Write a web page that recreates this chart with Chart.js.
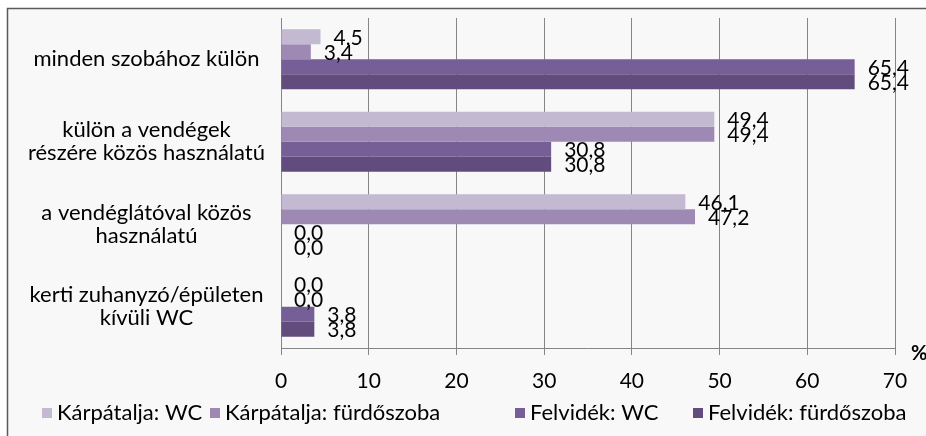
<!DOCTYPE html>
<html><head><meta charset="utf-8">
<script src="https://cdn.jsdelivr.net/npm/chart.js@4.4.0/dist/chart.umd.min.js"></script>
<style>html,body{margin:0;padding:0;background:#fff;}</style>
</head><body>
<canvas id="c" width="926" height="436" style="display:block;width:926px;height:436px"></canvas>
<script>
const categories = [
  ["minden szobához külön"],
  ["külön a vendégek", "részére közös használatú"],
  ["a vendéglátóval közös", "használatú"],
  ["kerti zuhanyzó/épületen", "kívüli WC"]
];
const seriesNames = ["Kárpátalja: WC", "Kárpátalja: fürdőszoba", "Felvidék: WC", "Felvidék: fürdőszoba"];
const karpataljaWC = [4.5, 49.4, 46.1, 0.0];
const karpataljaFurdo = [3.4, 49.4, 47.2, 0.0];
const felvidekWC = [65.4, 30.8, 0.0, 3.8];
const felvidekFurdo = [65.4, 30.8, 0.0, 3.8];
const xTickValues = [0, 10, 20, 30, 40, 50, 60, 70];
const unitLabel = "%";

const colors = ['#c3b9d1', '#9d89b4', '#765e96', '#624c7e'];
const FONT = "Lato, 'Liberation Sans', sans-serif";
const seriesValues = [karpataljaWC, karpataljaFurdo, felvidekWC, felvidekFurdo];

const PLOT_LEFT = 281, PLOT_RIGHT = 895, PLOT_TOP = 18, PLOT_BOTTOM = 348;
const LEGEND_BOX_X = [42, 210, 515, 693];
const LEGEND_Y = 413;

const frame = {
  id: 'frame',
  beforeDraw(chart) {
    const ctx = chart.ctx;
    ctx.save();
    ctx.fillStyle = '#ffffff';
    ctx.fillRect(0, 0, chart.width, chart.height);
    ctx.fillStyle = '#f8f8f8';
    ctx.fillRect(8, 9, chart.width - 8, chart.height - 9);
    ctx.strokeStyle = '#5a5a5a';
    ctx.lineWidth = 1.5;
    ctx.beginPath();
    ctx.moveTo(7.5, chart.height);
    ctx.lineTo(7.5, 8.5);
    ctx.lineTo(chart.width, 8.5);
    ctx.stroke();
    ctx.restore();
  }
};

const valueLabels = {
  id: 'valueLabels',
  afterDatasetsDraw(chart) {
    const ctx = chart.ctx;
    ctx.save();
    ctx.font = "21px " + FONT;
    ctx.fillStyle = '#000';
    ctx.textAlign = 'left';
    ctx.textBaseline = 'middle';
    chart.data.datasets.forEach((ds, di) => {
      const meta = chart.getDatasetMeta(di);
      meta.data.forEach((el, i) => {
        const v = ds.data[i];
        const txt = v.toFixed(1).replace('.', ',');
        ctx.fillText(txt, el.x + 13, el.y + 1);
      });
    });
    // unit label
    ctx.font = "bold 20px " + FONT;
    ctx.fillText(unitLabel, 911, chart.scales.x.top + 6);
    // legend
    ctx.font = "22px " + FONT;
    chart.data.datasets.forEach((ds, di) => {
      const bx = LEGEND_BOX_X[di];
      ctx.fillStyle = ds.backgroundColor;
      ctx.fillRect(bx, LEGEND_Y - 5, 10, 10);
      ctx.fillStyle = '#000';
      ctx.fillText(ds.label, bx + 15, LEGEND_Y);
    });
    ctx.restore();
  }
};

new Chart(document.getElementById('c'), {
  type: 'bar',
  data: {
    labels: categories,
    datasets: seriesNames.map((n, i) => ({
      label: n,
      data: seriesValues[i],
      backgroundColor: colors[i],
      borderWidth: 0,
      categoryPercentage: 0.727,
      barPercentage: 1.0
    }))
  },
  options: {
    indexAxis: 'y',
    responsive: false,
    animation: false,
    devicePixelRatio: 1,
    layout: { padding: { left: 0, right: 926 - PLOT_RIGHT, top: PLOT_TOP, bottom: 0 } },
    plugins: {
      legend: { display: false },
      tooltip: { enabled: false }
    },
    scales: {
      x: {
        type: 'linear',
        min: 0, max: 70,
        afterBuildTicks(scale) { scale.ticks = xTickValues.map(v => ({ value: v })); },
        ticks: { font: { family: FONT, size: 21 }, color: '#000', padding: 14 },
        grid: { color: '#858585', lineWidth: 1, tickLength: 7, drawTicks: true },
        border: { display: true, color: '#858585', width: 1 },
        afterFit(scale) {
          scale.height = 436 - PLOT_BOTTOM;
          scale.paddingLeft = 0; scale.paddingRight = 0;
        }
      },
      y: {
        type: 'category',
        ticks: { font: { family: FONT, size: 22, lineHeight: 1.05 }, color: '#000', crossAlign: 'center', padding: 16 },
        grid: { display: false, drawTicks: false },
        border: { display: true, color: '#858585', width: 1 },
        afterFit(scale) {
          scale.width = PLOT_LEFT;
          scale.paddingTop = 0; scale.paddingBottom = 0;
        }
      }
    }
  },
  plugins: [frame, valueLabels]
});
</script>
</body></html>
